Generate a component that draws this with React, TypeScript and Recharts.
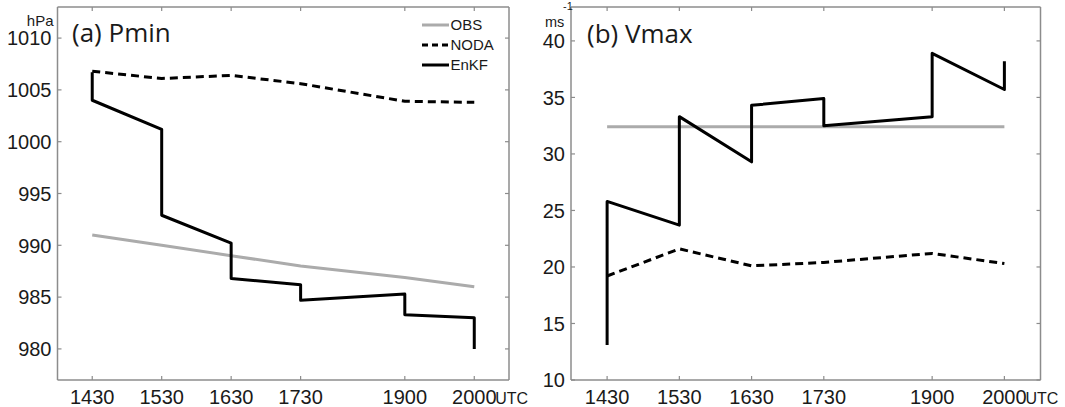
import React from 'react';
import { LineChart, Line, XAxis, YAxis } from 'recharts';

// ---- data ----
const timeTicks = [870, 930, 990, 1050, 1140, 1200]; // minutes of day
const timeLabels = ['1430', '1530', '1630', '1730', '1900', '2000'];
const obsTimes = [870, 930, 990, 1050, 1140, 1200];
const enkfTimes = [870, 870, 930, 930, 990, 990, 1050, 1050, 1140, 1140, 1200, 1200];

const pminTicks = [980, 985, 990, 995, 1000, 1005, 1010];
const pminObs = [991.0, 990.0, 989.0, 988.0, 986.9, 986.0];
const pminNoda = [1006.8, 1006.1, 1006.4, 1005.6, 1003.9, 1003.8];
const pminEnkf = [1006.7, 1004.0, 1001.2, 992.9, 990.2, 986.8, 986.2, 984.7, 985.3, 983.3, 983.0, 980.0];

const vmaxTicks = [10, 15, 20, 25, 30, 35, 40];
const vmaxObs = [32.4, 32.4, 32.4, 32.4, 32.4, 32.4];
const vmaxNoda = [19.2, 21.6, 20.1, 20.4, 21.2, 20.3];
const vmaxEnkf = [13.1, 25.8, 23.7, 33.3, 29.3, 34.3, 34.9, 32.5, 33.3, 38.9, 35.7, 38.2];

const seriesNames = ['OBS', 'NODA', 'EnKF'];

// ---- styles ----
const AXIS = '#8c8c8c';
const TXT = '#1a1a1a';
const FONT = "'Liberation Sans', Arial, Helvetica, sans-serif";
const TITLE_FONT = "'Open Sans', 'Noto Sans', sans-serif";
const seriesStyle: Record<string, { stroke: string; dash?: string }> = {
  OBS: { stroke: '#ababab' },
  NODA: { stroke: '#000000', dash: '8 5' },
  EnKF: { stroke: '#000000' },
};

const toPoints = (times: number[], vals: number[]) => times.map((t, i) => ({ t, v: vals[i] }));

const BottomTick = (props: any) => {
  const { x, y, payload } = props;
  const idx = timeTicks.indexOf(payload.value);
  const last = idx === timeTicks.length - 1;
  return (
    <g>
      <line x1={x} x2={x} y1={y} y2={y - 4} stroke={AXIS} strokeWidth={1.2} />
      <text x={x} y={y + 24} textAnchor="middle" fontSize={20} fill={TXT} fontFamily={FONT}>
        {timeLabels[idx]}
      </text>
      {last && (
        <text x={x + 21} y={y + 24} textAnchor="start" fontSize={16} fill={TXT} fontFamily={FONT}>
          UTC
        </text>
      )}
    </g>
  );
};

const TopTick = (props: any) => {
  const { x, y } = props;
  return <line x1={x} x2={x} y1={y} y2={y + 4} stroke={AXIS} strokeWidth={1.2} />;
};

const LeftTick = (props: any) => {
  const { x, y, payload } = props;
  return (
    <g>
      <line x1={x} x2={x + 4} y1={y} y2={y} stroke={AXIS} strokeWidth={1.2} />
      <text x={x - 6} y={y} dy="0.36em" textAnchor="end" fontSize={20} fill={TXT} fontFamily={FONT}>
        {payload.value}
      </text>
    </g>
  );
};

const RightTick = (props: any) => {
  const { x, y } = props;
  return <line x1={x} x2={x - 4} y1={y} y2={y} stroke={AXIS} strokeWidth={1.2} />;
};

type PanelProps = {
  width: number;
  left: number;
  right: number;
  yDomain: [number, number];
  yTicks: number[];
  obs: number[];
  noda: number[];
  enkf: number[];
};

const TOP = 7;
const BOTTOM = 27;

const Panel = ({ width, left, right, yDomain, yTicks, obs, noda, enkf }: PanelProps) => {
  const seriesData: Record<string, { t: number; v: number }[]> = {
    OBS: toPoints(obsTimes, obs),
    NODA: toPoints(obsTimes, noda),
    EnKF: toPoints(enkfTimes, enkf),
  };
  const axisLine = { stroke: AXIS, strokeWidth: 1.5 };
  return (
    <LineChart width={width} height={407} margin={{ top: 0, right: 0, bottom: 0, left: 0 }}>
      <XAxis
        xAxisId="b"
        dataKey="t"
        type="number"
        domain={[840, 1230]}
        ticks={timeTicks}
        interval={0}
        height={BOTTOM}
        tickSize={0}
        tickMargin={0}
        tickLine={false}
        axisLine={axisLine}
        tick={BottomTick}
        allowDataOverflow
      />
      <XAxis
        xAxisId="t"
        orientation="top"
        dataKey="t"
        type="number"
        domain={[840, 1230]}
        ticks={timeTicks}
        interval={0}
        height={TOP}
        tickSize={0}
        tickMargin={0}
        tickLine={false}
        axisLine={axisLine}
        tick={TopTick}
        allowDataOverflow
      />
      <YAxis
        yAxisId="l"
        type="number"
        domain={yDomain}
        ticks={yTicks}
        interval={0}
        width={left}
        tickSize={0}
        tickMargin={0}
        tickLine={false}
        axisLine={axisLine}
        tick={LeftTick}
        allowDataOverflow
      />
      <YAxis
        yAxisId="r"
        orientation="right"
        type="number"
        domain={yDomain}
        ticks={yTicks}
        interval={0}
        width={right}
        tickSize={0}
        tickMargin={0}
        tickLine={false}
        axisLine={axisLine}
        tick={RightTick}
        allowDataOverflow
      />
      {seriesNames.map((name) => (
        <Line
          key={name}
          name={name}
          data={seriesData[name]}
          dataKey="v"
          xAxisId="b"
          yAxisId="l"
          type="linear"
          stroke={seriesStyle[name].stroke}
          strokeDasharray={seriesStyle[name].dash}
          strokeWidth={3}
          strokeLinejoin="round"
          dot={false}
          activeDot={false}
          isAnimationActive={false}
        />
      ))}
    </LineChart>
  );
};

const Overlay = () => (
  <svg width={1065} height={407} style={{ position: 'absolute', left: 0, top: 0, pointerEvents: 'none' }}>
    {/* panel a labels */}
    <text x={53.5} y={26} textAnchor="end" fontSize={15} fill={TXT} fontFamily={FONT}>hPa</text>
    <text x={72} y={42} fontSize={26} fill={TXT} fontFamily={TITLE_FONT}>(a) Pmin</text>
    {/* legend */}
    {seriesNames.map((name, i) => {
      const cy = 25 + i * 20;
      return (
        <g key={name}>
          <line x1={422} x2={449} y1={cy} y2={cy} stroke={seriesStyle[name].stroke} strokeWidth={3}
            strokeDasharray={seriesStyle[name].dash ? '6 4' : undefined} />
          <text x={450.5} y={cy} dy="0.36em" fontSize={15} fill={TXT} fontFamily={FONT}>{name}</text>
        </g>
      );
    })}
    {/* panel b labels */}
    <text x={545} y={27} fontSize={14.5} fill={TXT} fontFamily={FONT}>ms</text>
    <text x={563} y={10} fontSize={11} fill={TXT} fontFamily={FONT}>-1</text>
    <text x={587} y={43} fontSize={26} fill={TXT} fontFamily={TITLE_FONT}>(b) Vmax</text>
  </svg>
);

export default function App() {
  return (
    <div style={{ position: 'absolute', left: 0, top: 0, width: 1065, height: 407, background: '#fff', overflow: 'hidden' }}>
      <div style={{ position: 'absolute', left: 0, top: 0 }}>
        <Panel
          width={530}
          left={57.5}
          right={21}
          yDomain={[977, 1013]}
          yTicks={pminTicks}
          obs={pminObs}
          noda={pminNoda}
          enkf={pminEnkf}
        />
      </div>
      <div style={{ position: 'absolute', left: 530, top: 0 }}>
        <Panel
          width={535}
          left={41}
          right={24.5}
          yDomain={[10, 43]}
          yTicks={vmaxTicks}
          obs={vmaxObs}
          noda={vmaxNoda}
          enkf={vmaxEnkf}
        />
      </div>
      <Overlay />
    </div>
  );
}
